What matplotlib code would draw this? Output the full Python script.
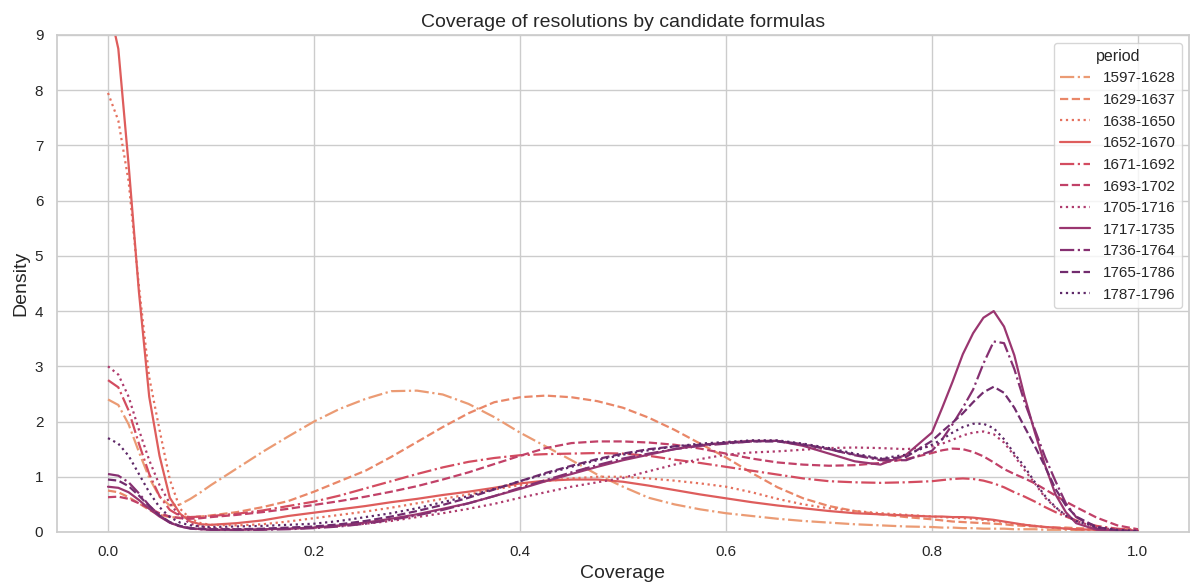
import matplotlib
matplotlib.use("Agg")
import matplotlib.pyplot as plt
import seaborn as sns

sns.set_theme(style="whitegrid")
plt.rcParams['font.family'] = ['Liberation Sans', 'DejaVu Sans']

coverage = [0, .01, .02, .03, .04, .05, .06, .07, .08, .09, .1, .125, .15, .175, .2, .225, .25, .275, .3, .325,
            .35, .375, .4, .425, .45, .475, .5, .525, .55, .575, .6, .625, .65, .675, .7, .725, .75, .775, .8, .81,
            .82, .83, .84, .85, .86, .87, .88, .89, .9, .91, .92, .93, .94, .96, .98, 1.0]

periods = ["1597-1628", "1629-1637", "1638-1650", "1652-1670", "1671-1692", "1693-1702",
           "1705-1716", "1717-1735", "1736-1764", "1765-1786", "1787-1796"]

d_1597 = [2.40, 2.30, 1.95, 1.45, 0.98, 0.64, 0.48, 0.50, 0.60, 0.72, 0.85, 1.15, 1.45, 1.73, 2.00, 2.23, 2.41, 2.55, 2.56, 2.49,
          2.32, 2.08, 1.80, 1.55, 1.30, 1.04, 0.82, 0.62, 0.50, 0.41, 0.34, 0.29, 0.24, 0.20, 0.17, 0.14, 0.12, 0.10, 0.09, 0.08,
          0.08, 0.07, 0.07, 0.06, 0.06, 0.06, 0.05, 0.05, 0.05, 0.04, 0.04, 0.04, 0.03, 0.03, 0.02, 0.02]
d_1629 = [0.75, 0.72, 0.63, 0.52, 0.40, 0.31, 0.27, 0.26, 0.27, 0.28, 0.30, 0.36, 0.45, 0.56, 0.73, 0.92, 1.11, 1.36, 1.63, 1.90,
          2.15, 2.35, 2.44, 2.47, 2.44, 2.37, 2.25, 2.07, 1.85, 1.60, 1.35, 1.07, 0.81, 0.61, 0.47, 0.38, 0.32, 0.27, 0.23, 0.21,
          0.19, 0.18, 0.17, 0.16, 0.15, 0.14, 0.12, 0.11, 0.10, 0.09, 0.08, 0.08, 0.07, 0.06, 0.05, 0.05]
d_1638 = [7.95, 7.45, 6.35, 4.45, 2.80, 1.85, 0.95, 0.42, 0.24, 0.16, 0.13, 0.12, 0.14, 0.19, 0.25, 0.31, 0.37, 0.44, 0.52, 0.60,
          0.68, 0.77, 0.85, 0.92, 0.97, 1.00, 1.00, 0.97, 0.93, 0.88, 0.82, 0.72, 0.60, 0.50, 0.43, 0.38, 0.34, 0.31, 0.28, 0.27,
          0.26, 0.25, 0.24, 0.22, 0.20, 0.18, 0.15, 0.13, 0.11, 0.09, 0.07, 0.06, 0.05, 0.04, 0.03, 0.02]
d_1652 = [9.60, 8.75, 6.65, 4.35, 2.45, 1.38, 0.62, 0.33, 0.19, 0.14, 0.13, 0.16, 0.21, 0.29, 0.35, 0.41, 0.47, 0.54, 0.60, 0.67,
          0.73, 0.80, 0.88, 0.93, 0.95, 0.95, 0.91, 0.84, 0.76, 0.68, 0.61, 0.54, 0.48, 0.43, 0.38, 0.34, 0.32, 0.30, 0.28, 0.28,
          0.27, 0.27, 0.26, 0.24, 0.22, 0.19, 0.16, 0.13, 0.11, 0.09, 0.08, 0.06, 0.05, 0.04, 0.03, 0.03]
d_1671 = [2.75, 2.62, 2.20, 1.60, 1.05, 0.65, 0.40, 0.29, 0.27, 0.28, 0.29, 0.33, 0.39, 0.47, 0.55, 0.66, 0.79, 0.92, 1.05, 1.17,
          1.27, 1.34, 1.39, 1.41, 1.42, 1.43, 1.42, 1.38, 1.31, 1.25, 1.18, 1.11, 1.04, 0.97, 0.92, 0.90, 0.89, 0.90, 0.92, 0.94,
          0.96, 0.97, 0.96, 0.93, 0.88, 0.81, 0.72, 0.64, 0.55, 0.45, 0.36, 0.28, 0.21, 0.11, 0.06, 0.03]
d_1693 = [0.63, 0.64, 0.60, 0.52, 0.43, 0.34, 0.28, 0.25, 0.24, 0.25, 0.27, 0.31, 0.36, 0.42, 0.49, 0.56, 0.64, 0.73, 0.83, 0.95,
          1.08, 1.23, 1.38, 1.52, 1.61, 1.64, 1.64, 1.62, 1.58, 1.51, 1.42, 1.33, 1.26, 1.22, 1.20, 1.21, 1.25, 1.32, 1.43, 1.48,
          1.51, 1.50, 1.45, 1.37, 1.26, 1.14, 1.05, 0.97, 0.88, 0.77, 0.66, 0.55, 0.45, 0.26, 0.12, 0.05]
d_1705 = [3.00, 2.85, 2.45, 1.85, 1.30, 0.85, 0.52, 0.28, 0.15, 0.10, 0.07, 0.05, 0.05, 0.06, 0.08, 0.11, 0.15, 0.20, 0.27, 0.34,
          0.42, 0.51, 0.62, 0.72, 0.82, 0.90, 0.98, 1.10, 1.22, 1.32, 1.40, 1.44, 1.46, 1.49, 1.52, 1.53, 1.52, 1.50, 1.55, 1.60,
          1.67, 1.75, 1.80, 1.82, 1.77, 1.62, 1.38, 1.12, 0.88, 0.62, 0.44, 0.30, 0.20, 0.08, 0.04, 0.02]
d_1717 = [0.82, 0.80, 0.72, 0.58, 0.42, 0.28, 0.17, 0.10, 0.07, 0.05, 0.04, 0.04, 0.05, 0.06, 0.08, 0.12, 0.17, 0.24, 0.32, 0.42,
          0.52, 0.65, 0.78, 0.92, 1.05, 1.18, 1.30, 1.40, 1.50, 1.57, 1.62, 1.65, 1.65, 1.56, 1.42, 1.28, 1.22, 1.40, 1.80, 2.25,
          2.72, 3.22, 3.60, 3.88, 4.00, 3.72, 3.20, 2.45, 1.80, 1.20, 0.68, 0.36, 0.16, 0.04, 0.02, 0.01]
d_1736 = [1.05, 1.02, 0.90, 0.70, 0.48, 0.30, 0.17, 0.10, 0.06, 0.05, 0.04, 0.03, 0.04, 0.05, 0.07, 0.10, 0.15, 0.22, 0.30, 0.40,
          0.52, 0.65, 0.80, 0.94, 1.08, 1.21, 1.33, 1.42, 1.50, 1.56, 1.60, 1.64, 1.65, 1.59, 1.50, 1.39, 1.30, 1.30, 1.47, 1.68,
          1.95, 2.25, 2.58, 3.05, 3.45, 3.42, 2.95, 2.35, 1.85, 1.35, 0.92, 0.52, 0.27, 0.06, 0.02, 0.01]
d_1765 = [0.95, 0.93, 0.83, 0.66, 0.47, 0.30, 0.18, 0.11, 0.07, 0.06, 0.05, 0.05, 0.06, 0.08, 0.10, 0.14, 0.20, 0.28, 0.38, 0.49,
          0.62, 0.77, 0.92, 1.07, 1.20, 1.32, 1.42, 1.50, 1.55, 1.58, 1.61, 1.64, 1.64, 1.58, 1.50, 1.40, 1.32, 1.36, 1.65, 1.82,
          1.98, 2.15, 2.35, 2.53, 2.63, 2.52, 2.25, 1.90, 1.55, 1.18, 0.78, 0.48, 0.28, 0.09, 0.03, 0.01]
d_1787 = [1.70, 1.60, 1.38, 1.05, 0.72, 0.45, 0.27, 0.17, 0.12, 0.10, 0.09, 0.10, 0.11, 0.13, 0.15, 0.20, 0.27, 0.34, 0.43, 0.54,
          0.65, 0.78, 0.92, 1.05, 1.18, 1.30, 1.40, 1.48, 1.55, 1.60, 1.63, 1.66, 1.66, 1.60, 1.52, 1.42, 1.33, 1.40, 1.58, 1.68,
          1.80, 1.90, 1.96, 1.96, 1.88, 1.68, 1.42, 1.18, 0.90, 0.65, 0.45, 0.30, 0.20, 0.09, 0.04, 0.02]

densities = [d_1597, d_1629, d_1638, d_1652, d_1671, d_1693, d_1705, d_1717, d_1736, d_1765, d_1787]
styles = ["-.", "--", ":", "-"] * 3
colors = sns.color_palette("flare", len(periods))

fig = plt.figure(figsize=(11.9, 5.85), dpi=100)
ax = fig.add_axes([0.0475, 0.0906, 0.952, 0.8496])

for i in range(len(periods)):
    ax.plot(coverage, densities[i], linestyle=styles[i], color=colors[i], lw=1.6, label=periods[i])

ax.set_xlim(-0.05, 1.05)
ax.set_ylim(0, 9)
ax.set_xticks([0, 0.2, 0.4, 0.6, 0.8, 1.0])
ax.tick_params(labelsize=11)
ax.set_title("Coverage of resolutions by candidate formulas", fontsize=14)
ax.set_xlabel("Coverage", fontsize=14)
ax.set_ylabel("Density", fontsize=14)
ax.legend(title="period", loc="upper right", fontsize=11, title_fontsize=11.5)

fig.savefig("out.png", dpi=100)
